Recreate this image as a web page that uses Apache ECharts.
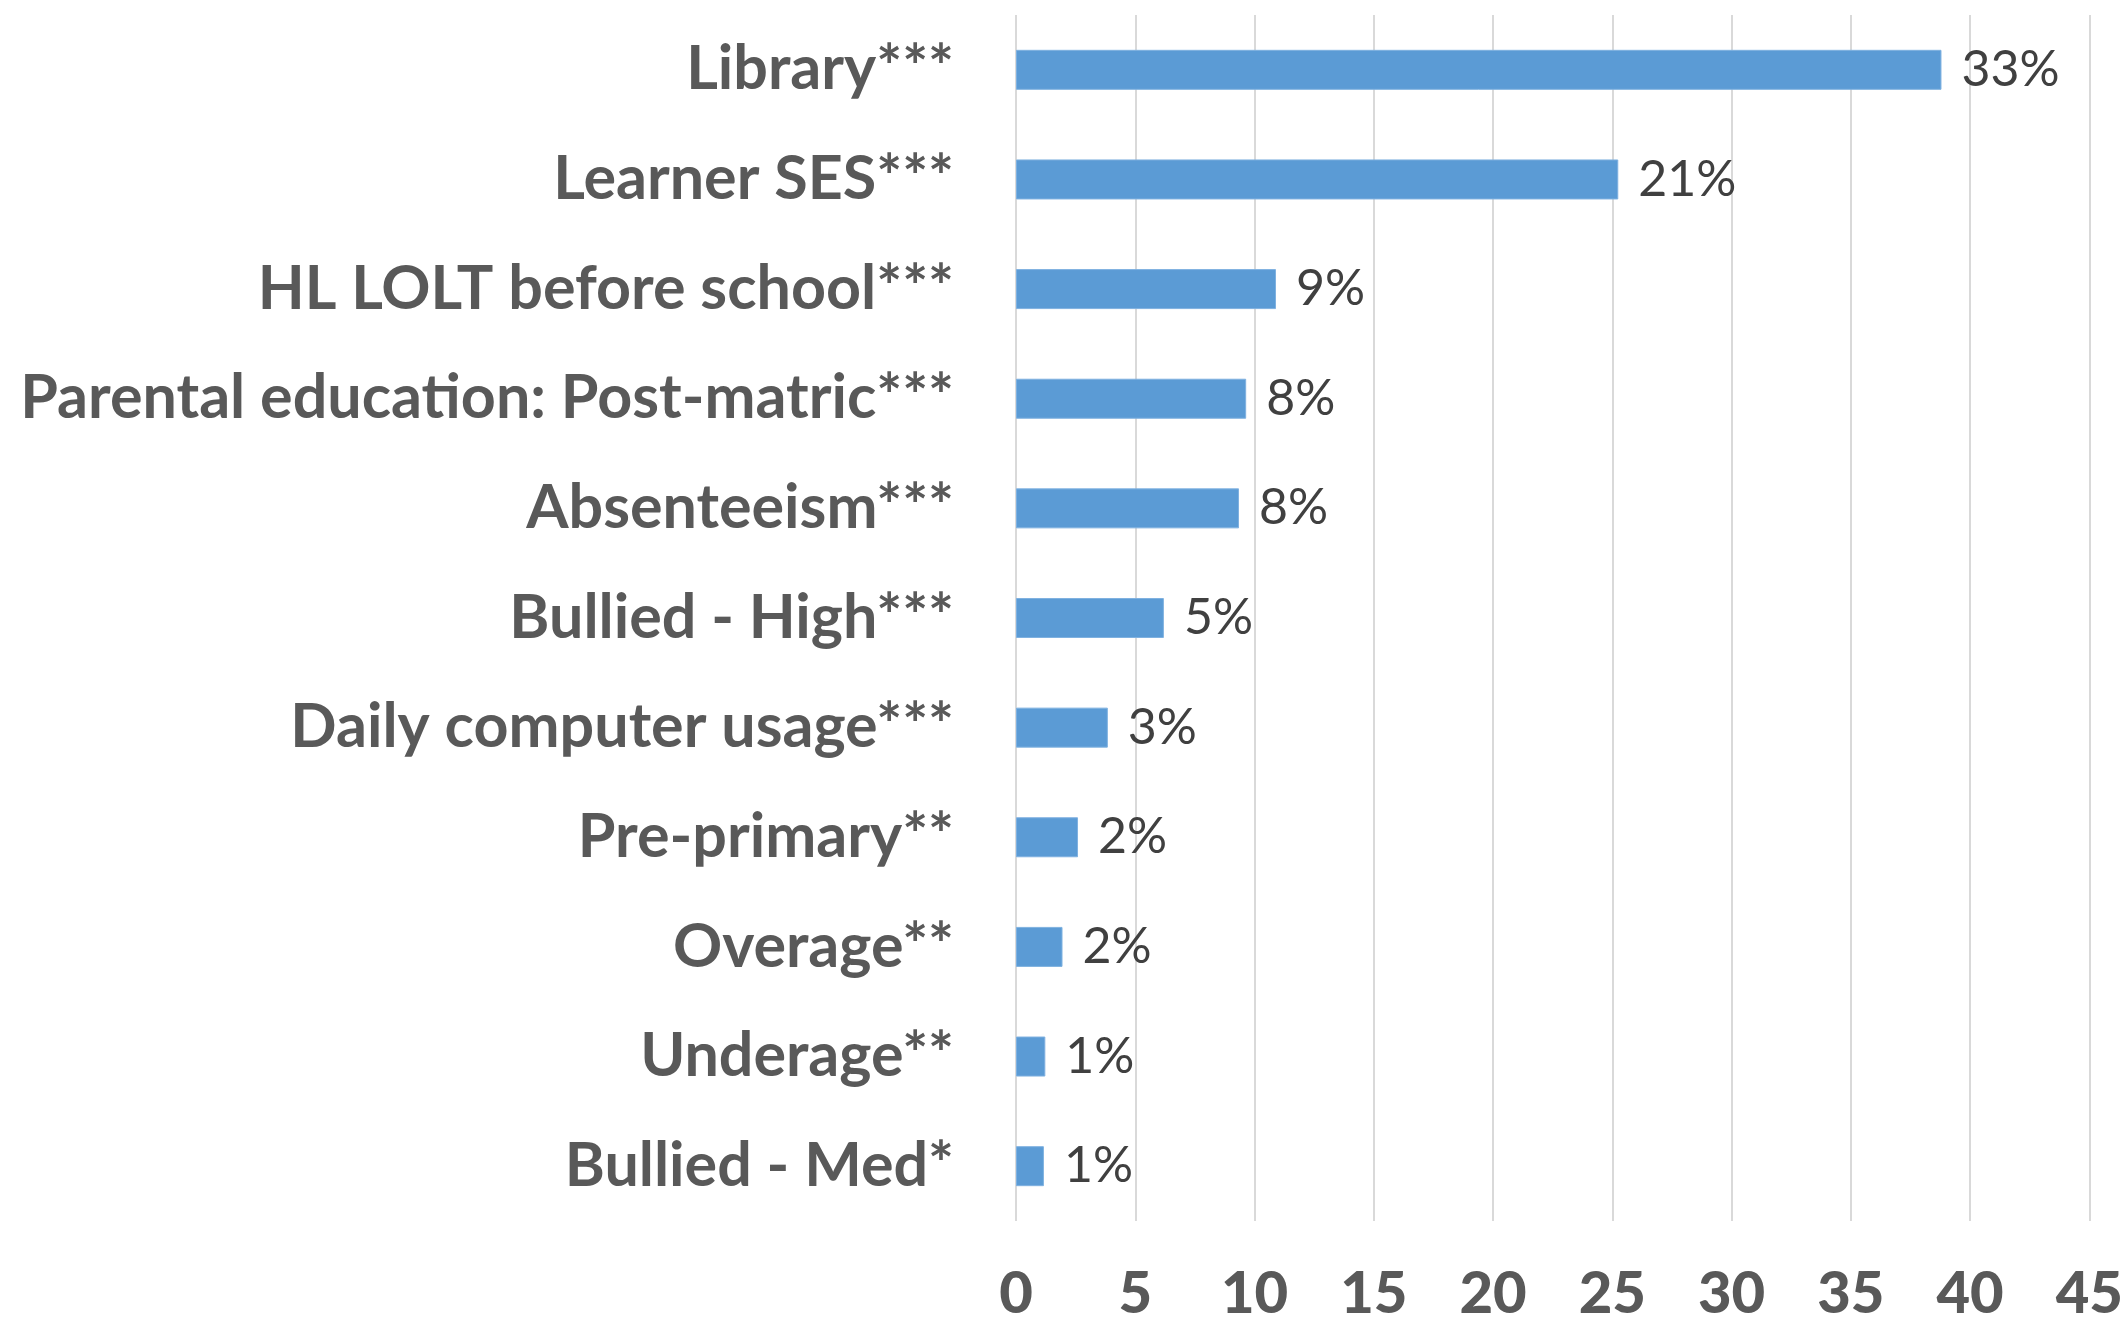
<!DOCTYPE html>
<html>
<head>
<meta charset="utf-8">
<script src="https://cdn.jsdelivr.net/npm/echarts@6/dist/echarts.min.js"></script>
<style>
  html, body { margin: 0; padding: 0; background: #fff; }
  #chart { width: 2126px; height: 1323px; }
</style>
</head>
<body>
<div id="chart"></div>
<script>
// Predictors, top to bottom
const categories = [
  'Library***',
  'Learner SES***',
  'HL LOLT before school***',
  'Parental education: Post-matric***',
  'Absenteeism***',
  'Bullied - High***',
  'Daily computer usage***',
  'Pre-primary**',
  'Overage**',
  'Underage**',
  'Bullied - Med*'
];

// Bar lengths on the 0–45 scale
const coefficients = [38.8, 25.25, 10.9, 9.65, 9.35, 6.2, 3.85, 2.6, 1.95, 1.23, 1.17];

// Share shown at the end of each bar
const shares = ['33%', '21%', '9%', '8%', '8%', '5%', '3%', '2%', '2%', '1%', '1%'];

// x-axis ticks
const axisMin = 0;
const axisMax = 45;
const axisStep = 5;

const chart = echarts.init(document.getElementById('chart'), null, { renderer: 'canvas' });

chart.setOption({
  animation: false,
  backgroundColor: '#ffffff',
  grid: { left: 1016, right: 21, top: 15, bottom: 89, containLabel: false },
  xAxis: {
    type: 'value',
    min: axisMin,
    max: axisMax,
    interval: axisStep,
    axisLine: { show: false },
    axisTick: { show: false },
    splitLine: { show: true, lineStyle: { color: '#d9d9d9', width: 2 } },
    axisLabel: {
      margin: 44,
      color: '#595959',
      fontFamily: 'Lato',
      fontWeight: 900,
      fontSize: 58
    }
  },
  yAxis: {
    type: 'category',
    inverse: true,
    data: categories,
    axisLine: { show: false },
    axisTick: { show: false },
    splitLine: { show: false },
    axisLabel: {
      margin: 62,
      color: '#595959',
      fontFamily: 'Lato',
      fontWeight: 'bold',
      fontSize: 61
    }
  },
  series: [{
    type: 'bar',
    data: coefficients,
    barWidth: 40,
    itemStyle: { color: '#5b9bd5', borderColor: '#7fb1e0', borderWidth: 1 },
    label: {
      show: true,
      position: 'right',
      distance: 20,
      color: '#404040',
      fontFamily: 'Lato',
      fontSize: 50,
      formatter: p => shares[p.dataIndex]
    }
  }]
});
</script>
</body>
</html>
